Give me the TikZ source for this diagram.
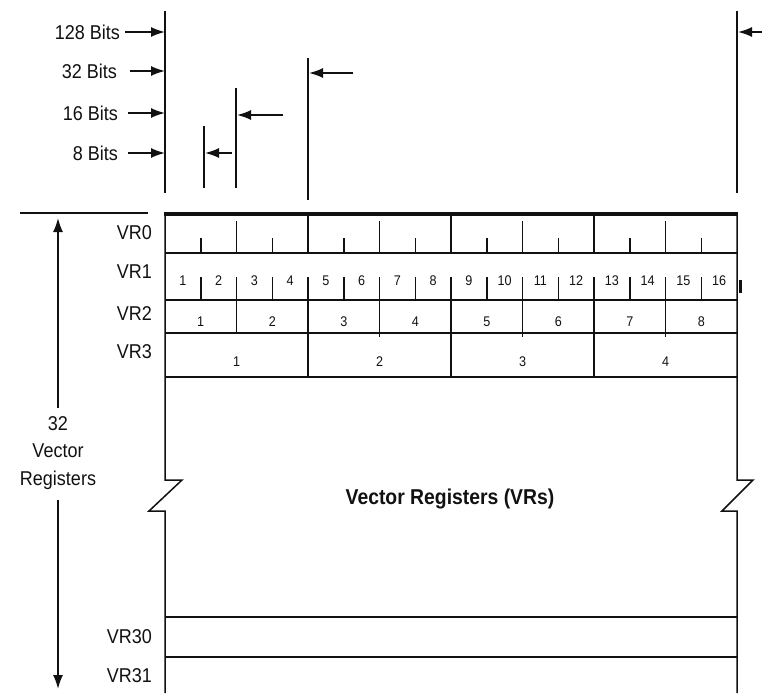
\documentclass[tikz,border=0pt]{standalone}
\usepackage{fontspec}
\setmainfont[FakeStretch=0.9]{Liberation Sans}
\usepackage{xcolor}
\definecolor{inkblack}{HTML}{111111}
\usetikzlibrary{arrows.meta}

\begin{document}
\begin{tikzpicture}[x=1pt,y=-1pt,line cap=butt,
  lbl/.style={font=\fontsize{20}{27.5}\selectfont,inner sep=0pt,text=inkblack},
  numlbl/.style={font=\fontsize{14}{16}\selectfont,inner sep=0pt,text=inkblack},
  bar/.style={line width=1.7pt,inkblack},
  rule/.style={line width=1.5pt,inkblack},
  bitarrow/.style={line width=1.7pt,inkblack,-{Latex[length=14pt,width=10pt]}}]

  \useasboundingbox (0,0) rectangle (762,693);

  % element width markers
  \draw[bar] (165,11) -- (165,193);
  \draw[bar] (204,126) -- (204,188);
  \draw[bar] (236,88) -- (236,188);
  \draw[bar] (308,58) -- (308,200);
  \draw[bar] (737,11) -- (737,193);

  % labels on the left
  \node[lbl,anchor=east] (b128) at (120,32)  {128 Bits};
  \node[lbl,anchor=east] (b32)  at (117,71)  {32 Bits};
  \node[lbl,anchor=east] (b16)  at (118,113) {16 Bits};
  \node[lbl,anchor=east] (b8)   at (118,153) {8 Bits};

  \coordinate (l128) at (165,32);
  \coordinate (l32)  at (165,71);
  \coordinate (l16)  at (165,113);
  \coordinate (l8)   at (165,153);
  \draw[bitarrow] ([xshift=5pt]b128.east) -- (l128);
  \draw[bitarrow] ([xshift=13pt]b32.east) -- (l32);
  \draw[bitarrow] ([xshift=10pt]b16.east) -- (l16);
  \draw[bitarrow] ([xshift=10pt]b8.east) -- (l8);

  % arrows onto the right ends
  \coordinate (s8)  at (232,153);  \coordinate (e8)  at (205,153);
  \coordinate (s16) at (283,115);  \coordinate (e16) at (237,115);
  \coordinate (s32) at (353,73);   \coordinate (e32) at (309,73);
  \coordinate (s128) at (764,32);  \coordinate (e128) at (738,32);
  \draw[bitarrow] (s8) -- (e8);
  \draw[bitarrow] (s16) -- (e16);
  \draw[bitarrow] (s32) -- (e32);
  \draw[bitarrow] (s128) -- (e128);

  % register file outline
  \draw[line width=4pt,inkblack] (164,214) -- (738,214);
  \draw[rule] (165,214) -- (165,480) -- (182,480) -- (149,511) -- (165,511) -- (165,693);
  \draw[rule] (737,214) -- (737,480) -- (753,480) -- (722,511) -- (737,511) -- (737,693);
  \foreach \ry in {253,300,333,377,617,657}
    \draw[rule] (165,\ry) -- (737,\ry);
  \draw[line width=3pt,inkblack] (740,280) -- (740,293);

  % VR0: byte, halfword and word ticks
  \foreach \i in {1,...,15}{
    \pgfmathsetmacro{\tx}{165+35.75*\i}
    \pgfmathtruncatemacro{\wq}{mod(\i,4)}
    \pgfmathtruncatemacro{\hq}{mod(\i,2)}
    \ifnum\wq=0
      \draw[rule] (\tx,214) -- (\tx,253);
    \else\ifnum\hq=0
      \draw[rule] (\tx,221) -- (\tx,253);
    \else
      \draw[rule] (\tx,238) -- (\tx,253);
    \fi\fi
  }

  % VR1: bytes
  \foreach \i in {1,...,15}
    \draw[rule] ({165+35.75*\i},277) -- ({165+35.75*\i},300);
  \foreach \i in {1,...,16}
    \node[numlbl] (byte\i) at ({165+35.75*(\i-0.5)},281) {\i};

  % VR2: halfwords
  \foreach \i/\yb in {1/333,2/333,3/337,4/333,5/337,6/333,7/337}
    \draw[rule] ({165+71.5*\i},300) -- ({165+71.5*\i},\yb);
  \foreach \i in {1,...,8}
    \node[numlbl] (half\i) at ({165+71.5*(\i-0.5)},322) {\i};

  % VR3: words
  \foreach \i in {1,2,3}
    \draw[rule] ({165+143*\i},333) -- ({165+143*\i},377);
  \foreach \i in {1,...,4}
    \node[numlbl] (word\i) at ({165+143*(\i-0.5)},362) {\i};

  % register names
  \node[lbl,anchor=east] (vr0)  at (152,233) {VR0};
  \node[lbl,anchor=east] (vr1)  at (152,272) {VR1};
  \node[lbl,anchor=east] (vr2)  at (152,314) {VR2};
  \node[lbl,anchor=east] (vr3)  at (152,352) {VR3};
  \node[lbl,anchor=east] (vr30) at (152,637) {VR30};
  \node[lbl,anchor=east] (vr31) at (152,676) {VR31};

  \node[font=\fontsize{21.5}{24}\selectfont\bfseries,inner sep=0pt,text=inkblack]
    (vrs) at (450,499) {Vector Registers (VRs)};

  % register count
  \draw[rule] (20,213) -- (148,213);
  \node[lbl,align=center] (count) at (58,453) {32\\Vector\\Registers};
  \coordinate (ctop) at (58,218);
  \coordinate (cbot) at (58,689);
  \draw[bitarrow] ([yshift=8pt]count.north) -- (ctop);
  \draw[bitarrow] ([yshift=-10pt]count.south) -- (cbot);
\end{tikzpicture}
\end{document}
